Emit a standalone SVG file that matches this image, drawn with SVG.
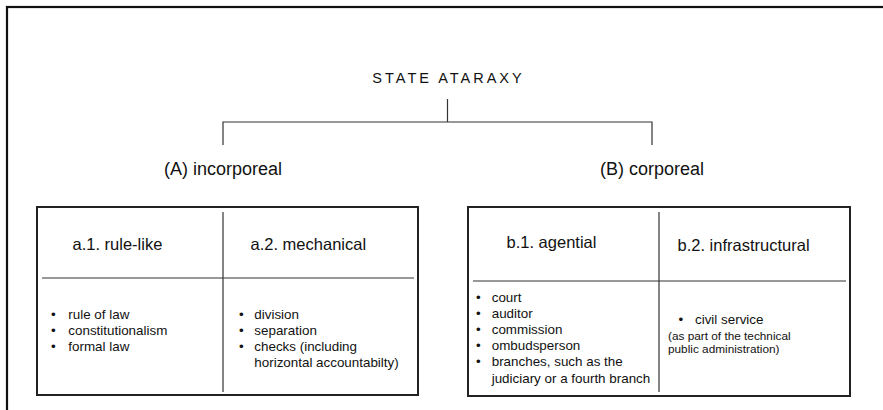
<svg xmlns="http://www.w3.org/2000/svg" width="883" height="410" viewBox="0 0 883 410">
<style>
text{font-family:"Liberation Sans",Arial,sans-serif;fill:#111}
.frame{fill:none;stroke:#111;stroke-width:2.2}
.box{fill:#fff;stroke:#222;stroke-width:2}
.div{stroke:#333;stroke-width:1.2}
.conn{stroke:#333;stroke-width:1.2;fill:none}
.h{font-size:16.5px}
.t{font-size:13.4px}
.s{font-size:11.8px}
</style>
<rect width="883" height="410" fill="#fff"/>
<rect class="frame" x="7" y="7" width="900" height="420"/>
<g id="title"><text x="448.5" y="83" text-anchor="middle" font-size="14.5" letter-spacing="3">STATE ATARAXY</text></g>
<g id="connectors">
<path class="conn" d="M447.5 99V122M223 145V122H652V145"/>
</g>
<g id="A"><text x="223" y="175" text-anchor="middle" font-size="18">(A) incorporeal</text></g>
<g id="B"><text x="652" y="175" text-anchor="middle" font-size="18">(B) corporeal</text></g>
<g id="boxA">
<rect class="box" x="37" y="207" width="381" height="188"/>
<line class="div" x1="223" y1="212" x2="223" y2="392"/>
<line class="div" x1="42" y1="278" x2="414" y2="278"/>
<text class="h" x="72.5" y="250">a.1. rule-like</text>
<text class="h" x="250.5" y="250">a.2. mechanical</text>
<g class="t">
<text x="51" y="319">•</text><text x="68.3" y="319">rule of law</text>
<text x="51" y="335">•</text><text x="68.3" y="335">constitutionalism</text>
<text x="51" y="351">•</text><text x="68.3" y="351">formal law</text>
<text x="239" y="319">•</text><text x="254.3" y="319">division</text>
<text x="239" y="335">•</text><text x="254.3" y="335">separation</text>
<text x="239" y="351">•</text><text x="254.3" y="351">checks (including</text>
<text x="254.3" y="367">horizontal accountabilty)</text>
</g>
</g>
<g id="boxB">
<rect class="box" x="468" y="207" width="382" height="189"/>
<line class="div" x1="659" y1="212" x2="659" y2="392"/>
<line class="div" x1="473" y1="281" x2="846" y2="281"/>
<text class="h" x="506.5" y="248">b.1. agential</text>
<text class="h" x="677.5" y="251">b.2. infrastructural</text>
<g class="t">
<text x="476" y="302">•</text><text x="491.7" y="302">court</text>
<text x="476" y="318">•</text><text x="491.7" y="318">auditor</text>
<text x="476" y="334">•</text><text x="491.7" y="334">commission</text>
<text x="476" y="350">•</text><text x="491.7" y="350">ombudsperson</text>
<text x="476" y="366">•</text><text x="491.7" y="366">branches, such as the</text>
<text x="491.7" y="382.5">judiciary or a fourth branch</text>
<text x="678.5" y="324">•</text><text x="695" y="324">civil service</text>
</g>
<text class="s" x="668" y="339.5">(as part of the technical</text>
<text class="s" x="668" y="353">public administration)</text>
</g>
</svg>
